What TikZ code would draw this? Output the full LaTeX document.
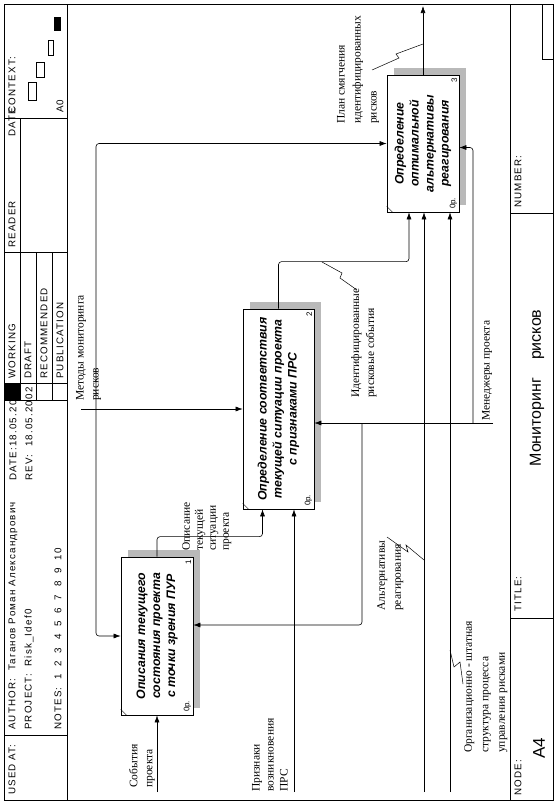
\documentclass[tikz,border=0pt]{standalone}
\usepackage{fontspec}
\setmainfont{Liberation Serif}
\setsansfont{Liberation Sans}
\newfontfamily\hdrfont[LetterSpace=12]{Liberation Sans}
\usepackage{tikz}
\usetikzlibrary{arrows.meta,calc,shadows}

\tikzset{
  func/.style={draw, fill=white, line width=0.7pt, minimum width=72pt, inner sep=0pt,
    general shadow={shadow xshift=7pt, shadow yshift=7pt, fill=gray!55}},
  ftext/.style={rotate=90, align=center, font=\fontsize{12.3}{15}\selectfont\sffamily\bfseries\itshape},
  fnum/.style={rotate=90, inner sep=0pt, font=\fontsize{8}{9}\selectfont\sffamily},
  conn/.style={line width=0.6pt, rounded corners=3pt},
  arr/.style={conn, -{Latex[length=7pt,width=5pt]}},
  squig/.style={line width=0.5pt},
  lbl/.style={rotate=90, anchor=north west, align=left, inner sep=0pt,
    font=\fontsize{11.5}{15}\selectfont},
  hdr/.style={rotate=90, anchor=west, inner sep=0pt, font=\fontsize{9.8}{11}\selectfont\hdrfont},
}

\begin{document}
\begin{tikzpicture}[x=1pt,y=-1pt]
  \useasboundingbox (0,0) rectangle (558,804);

  % Frame, header and footer
  \draw[line width=0.8pt] (4,4) rectangle (553,800);
  \draw (67,4) -- (67,800);
  \draw (510,4) -- (510,800);
  \foreach \y in {118,252,400,735} {
    \draw (4,\y) -- (67,\y);
  }
  \foreach \x in {20,36,52} {
    \draw (\x,252) -- (\x,400);
  }
  \draw (20,118) -- (20,252);
  \draw (4,383) -- (67,383);
  \fill (4,383) rectangle (20,400);
  \draw (510,213) -- (553,213);
  \draw (510,618) -- (553,618);
  \draw (542,4) -- (542,59) -- (553,59);

  \node[hdr] (usedat) at (12,795) {USED AT:};
  \node[hdr] (author) at (13,730) {AUTHOR:\ \ Таганов Роман Александрович};
  \node[hdr] (date) at (13,481) {DATE:18.05.2002};
  \node[hdr] (project) at (29,730) {PROJECT:\ \ Risk\_Idef0};
  \node[hdr] (rev) at (29,481) {REV:\ \ 18.05.2002};
  \node[hdr] (notes) at (58,730) {NOTES:\ \ 1\ \ 2\ \ 3\ \ 4\ \ 5\ \ 6\ \ 7\ \ 8\ \ 9\ \ 10};
  \node[hdr] (working) at (12,379) {WORKING};
  \node[hdr] (draft) at (28,379) {DRAFT};
  \node[hdr] (recomm) at (44,379) {RECOMMENDED};
  \node[hdr] (public) at (60,379) {PUBLICATION};
  \node[hdr] (reader) at (12,248) {READER};
  \node[hdr] (rdate) at (12,137) {DATE};
  \node[hdr] (context) at (12,114) {CONTEXT:};
  \node[hdr] (ctxnode) at (60,113) {A0};
  \node[hdr] (number) at (518,208) {NUMBER:};
  \node[hdr] (title) at (518,612) {TITLE:};
  \node[hdr] (node) at (518,796) {NODE:};
  \node[rotate=90, font=\fontsize{17}{20}\selectfont\sffamily] (a4) at (539,748) {A4};
  \node[rotate=90, font=\fontsize{16}{19}\selectfont\sffamily] (ttl) at (537,388) {Мониторинг\ \ \ \ рисков};

  % Context diagram
  \draw (28,82) rectangle (36,100);
  \draw (36,62) rectangle (44,77);
  \draw (48,40) rectangle (53,55);
  \fill (54,17) rectangle (61,31);

  % Function boxes
  \node[func, minimum height=158pt] (b1) at (157,636) {};
  \node[func, minimum width=71pt, minimum height=200pt] (b2) at (278.5,409) {};
  \node[func, minimum height=137pt] (b3) at (423,143.5) {};

  \node[ftext] at (b1) {Описания текущего\\состояния проекта\\с точки зрения ПУР};
  \node[ftext] at (b2) {Определение соответствия\\текущей ситуации проекта\\с признаками ПРС};
  \node[ftext] at (b3) {Определение\\оптимальной\\альтернативы\\реагирования};

  \foreach \b/\n in {b1/1,b2/2,b3/3} {
    \node[fnum] at ($(\b.north east)+(-5,6)$) {\n};
    \node[fnum] at ($(\b.south east)+(-6,-9)$) {0р.};
    \draw ($(\b.south west)+(0,-6)$) -- ($(\b.south west)+(6,0)$);
  }

  % Free ends
  \coordinate (ctl) at (81,409);
  \coordinate (mgr) at (493,423);
  \coordinate (evt) at (157,792);
  \coordinate (sgn) at (294,792);
  \coordinate (alt) at (424,792);
  \coordinate (org) at (450,792);
  \coordinate (plan) at (423,6);

  % Controls
  \draw[arr] (ctl) -- (b2.west);
  \draw[arr] (96,409) |- (b1.west);
  \draw[arr] (96,409) |- (b3.west);

  % Inputs and outputs
  \draw[arr] (evt) -- (b1.south);
  \draw[arr] (b1.north) -- ++(0,-20) -| ($(b2.south)+(-16,0)$);
  \draw[arr] (sgn) -- (sgn |- b2.south);
  \draw[arr] (b2.north) -- ++(0,-47) -| ($(b3.south)+(-14,0)$);
  \draw[arr] (alt) -- (alt |- b3.south);
  \draw[arr] (org) -- (org |- b3.south);
  \draw[arr] (b3.north) -- (plan);

  % Mechanisms
  \draw[arr] (mgr) -- (b2.east |- mgr);
  \draw[arr] (362,423) |- ($(b1.east)+(0,-11)$);
  \draw[arr] (473,423) |- ($(b3.east)+(0,4)$);

  % Labels
  \node[lbl] (lmeth) at (76,401) {Методы мониторинга\\рисков};
  \node[lbl] (levt) at (129,788) {События\\проекта};
  \node[lbl, font=\fontsize{11.5}{13}\selectfont] (ldesc) at (182,551) {Описание\\текущей\\ситуации\\проекта};
  \node[lbl, font=\fontsize{11.5}{14}\selectfont] (lsgn) at (252,792) {Признаки\\возникновения\\ПРС};
  \node[lbl] (lidf) at (351,398) {Идентифицированные\\рисковые события};
  \node[lbl, font=\fontsize{11.5}{16}\selectfont] (lalt) at (377,611) {Альтернативы\\реагирования};
  \node[lbl, font=\fontsize{11.5}{16.5}\selectfont] (lorg) at (464,753) {Организационно - штатная\\структура процесса\\управления рисками};
  \node[lbl] (lmgr) at (482,421) {Менеджеры проекта};
  \node[lbl, font=\fontsize{11.5}{16}\selectfont] (lplan) at (337,124) {План смягчения\\идентифицированных\\рисков};

  % Squiggles
  \draw[squig] (322,262) -- (342,273) -- (340,278) -- (357,290);
  \draw[squig] (372,70) -- (399,58) -- (396,54) -- (423,44);
  \draw[squig] (387,537) -- (408,552) -- (406,545) -- (424,560);
  \draw[squig] (450,650) -- (454,667) -- (460,662) -- (463,684);
\end{tikzpicture}
\end{document}
